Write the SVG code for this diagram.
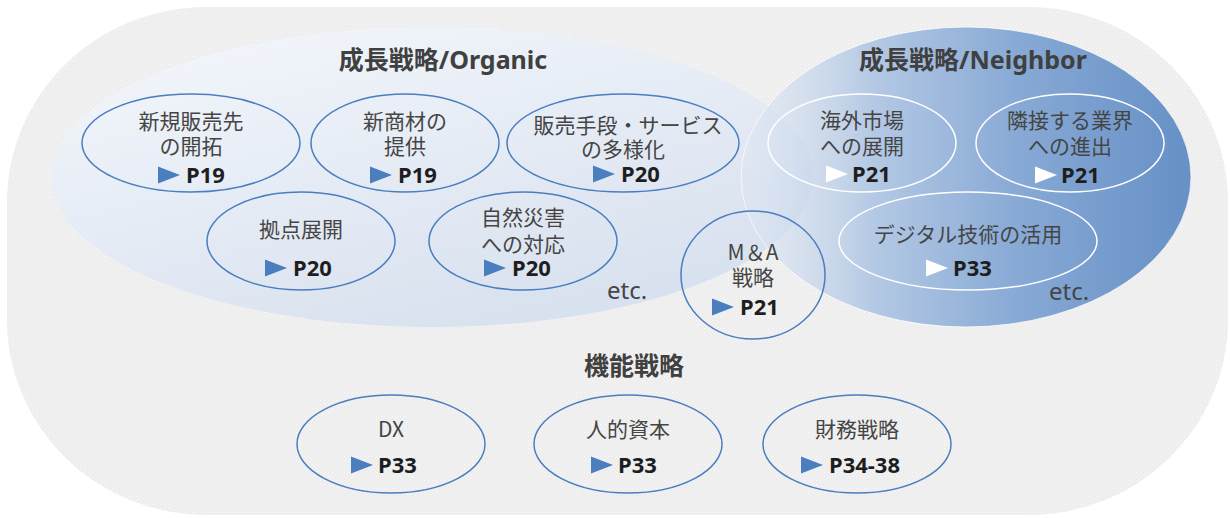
<svg xmlns="http://www.w3.org/2000/svg" width="1230" height="518" viewBox="0 0 1230 518">
  <defs>
    <pattern id="dots" width="4" height="4" patternUnits="userSpaceOnUse">
      <rect width="4" height="4" fill="#eeeeee"/>
      <rect x="0" y="0" width="1" height="1" fill="#fbfbfb"/>
      <rect x="2" y="2" width="1" height="1" fill="#f7f7f7"/>
    </pattern>
    <linearGradient id="gOrg" x1="0" y1="0" x2="0.6" y2="1">
      <stop offset="0" stop-color="#f5f8fc"/>
      <stop offset="1" stop-color="#d8e1ef"/>
    </linearGradient>
    <linearGradient id="gNb" x1="0" y1="0" x2="1" y2="0">
      <stop offset="0" stop-color="#dfe7f3" stop-opacity="0.5"/>
      <stop offset="0.3" stop-color="#b3c8e4"/>
      <stop offset="0.62" stop-color="#87a9d5"/>
      <stop offset="1" stop-color="#6690c6"/>
    </linearGradient>
    <polygon id="tri" points="0,-8.5 0,8.5 22,0"/>
  </defs>
  <style>
    .lbl { font-family: "Noto Sans CJK JP", sans-serif; font-size: 21px; fill: #454545; text-anchor: middle; }
    .pg { font-family: "Noto Sans", "Noto Sans CJK JP", sans-serif; font-size: 22px; font-weight: bold; fill: #1e1e1e; }
    .ttl { font-family: "Noto Sans", "Noto Sans CJK JP", sans-serif; font-size: 25px; font-weight: bold; fill: #404040; text-anchor: middle; }
    .etc { font-family: "Noto Sans", sans-serif; font-size: 24px; fill: #454545; }
    .eb { fill: none; stroke: #4a7ebf; stroke-width: 1.5; }
    .ew { fill: none; stroke: #ffffff; stroke-width: 1.5; }
    .tb { fill: #4a7ebf; }
    .tw { fill: #ffffff; }
  </style>

  <g id="background">
    <rect x="7" y="7" width="1221" height="508" rx="200" ry="195" fill="url(#dots)"/>
  </g>

  <g id="organic">
    <ellipse cx="432" cy="177" rx="381" ry="150" fill="url(#gOrg)"/>
  </g>
  <g id="neighbor">
    <ellipse cx="966" cy="177" rx="225" ry="150" fill="url(#gNb)" stroke="#ffffff" stroke-opacity="0.7" stroke-width="1"/>
  </g>

  <g id="titles">
    <text class="ttl" x="443" y="69">成長戦略/Organic</text>
    <text class="ttl" x="973" y="69">成長戦略/Neighbor</text>
    <text class="ttl" x="634" y="375">機能戦略</text>
    <text class="etc" x="607" y="299">etc.</text>
    <text class="etc" x="1049" y="300">etc.</text>
  </g>

  <g id="node-shinki">
    <ellipse class="eb" cx="191" cy="143" rx="109" ry="49"/>
    <text class="lbl" x="191" y="129">新規販売先</text>
    <text class="lbl" x="191" y="154">の開拓</text>
    <use href="#tri" class="tb" x="158" y="175"/>
    <text class="pg" x="186" y="183">P19</text>
  </g>

  <g id="node-shinshouzai">
    <ellipse class="eb" cx="405" cy="143" rx="94" ry="49"/>
    <text class="lbl" x="405" y="129">新商材の</text>
    <text class="lbl" x="405" y="154">提供</text>
    <use href="#tri" class="tb" x="370" y="175"/>
    <text class="pg" x="398" y="183">P19</text>
  </g>

  <g id="node-hanbai">
    <ellipse class="eb" cx="623" cy="143" rx="116" ry="49"/>
    <text class="lbl" x="628" y="133">販売手段・サービス</text>
    <text class="lbl" x="623" y="157">の多様化</text>
    <use href="#tri" class="tb" x="593" y="174"/>
    <text class="pg" x="621" y="182">P20</text>
  </g>

  <g id="node-kyoten">
    <ellipse class="eb" cx="301" cy="241" rx="94" ry="49"/>
    <text class="lbl" x="301" y="237">拠点展開</text>
    <use href="#tri" class="tb" x="265" y="268"/>
    <text class="pg" x="293" y="276">P20</text>
  </g>

  <g id="node-shizen">
    <ellipse class="eb" cx="523" cy="241" rx="94" ry="49"/>
    <text class="lbl" x="523" y="225">自然災害</text>
    <text class="lbl" x="523" y="252">への対応</text>
    <use href="#tri" class="tb" x="484" y="268"/>
    <text class="pg" x="512" y="276">P20</text>
  </g>

  <g id="node-ma">
    <ellipse class="eb" cx="753" cy="275" rx="72" ry="64"/>
    <text class="lbl" x="753" y="260">M＆A</text>
    <text class="lbl" x="753" y="285">戦略</text>
    <use href="#tri" class="tb" x="712" y="307"/>
    <text class="pg" x="740" y="315">P21</text>
  </g>

  <g id="node-kaigai">
    <ellipse class="ew" cx="862" cy="143" rx="94" ry="49"/>
    <text class="lbl" x="862" y="128">海外市場</text>
    <text class="lbl" x="862" y="154">への展開</text>
    <use href="#tri" class="tw" x="826" y="174"/>
    <text class="pg" x="852" y="182">P21</text>
  </g>

  <g id="node-rinsetsu">
    <ellipse class="ew" cx="1070" cy="143" rx="94" ry="49"/>
    <text class="lbl" x="1070" y="128">隣接する業界</text>
    <text class="lbl" x="1070" y="154">への進出</text>
    <use href="#tri" class="tw" x="1035" y="175"/>
    <text class="pg" x="1061" y="183">P21</text>
  </g>

  <g id="node-digital">
    <ellipse class="ew" cx="968" cy="241" rx="129" ry="49"/>
    <text class="lbl" x="968" y="242">デジタル技術の活用</text>
    <use href="#tri" class="tw" x="926" y="268"/>
    <text class="pg" x="953" y="276">P33</text>
  </g>

  <g id="node-dx">
    <ellipse class="eb" cx="391" cy="444" rx="94" ry="49"/>
    <text class="lbl" x="391" y="437">DX</text>
    <use href="#tri" class="tb" x="351" y="465"/>
    <text class="pg" x="378" y="473">P33</text>
  </g>

  <g id="node-jinteki">
    <ellipse class="eb" cx="628" cy="444" rx="94" ry="49"/>
    <text class="lbl" x="628" y="437">人的資本</text>
    <use href="#tri" class="tb" x="591" y="465"/>
    <text class="pg" x="618" y="473">P33</text>
  </g>

  <g id="node-zaimu">
    <ellipse class="eb" cx="857" cy="444" rx="94" ry="49"/>
    <text class="lbl" x="857" y="437">財務戦略</text>
    <use href="#tri" class="tb" x="801" y="465"/>
    <text class="pg" x="829" y="473">P34-38</text>
  </g>

  <g id="connectors"/>
</svg>
